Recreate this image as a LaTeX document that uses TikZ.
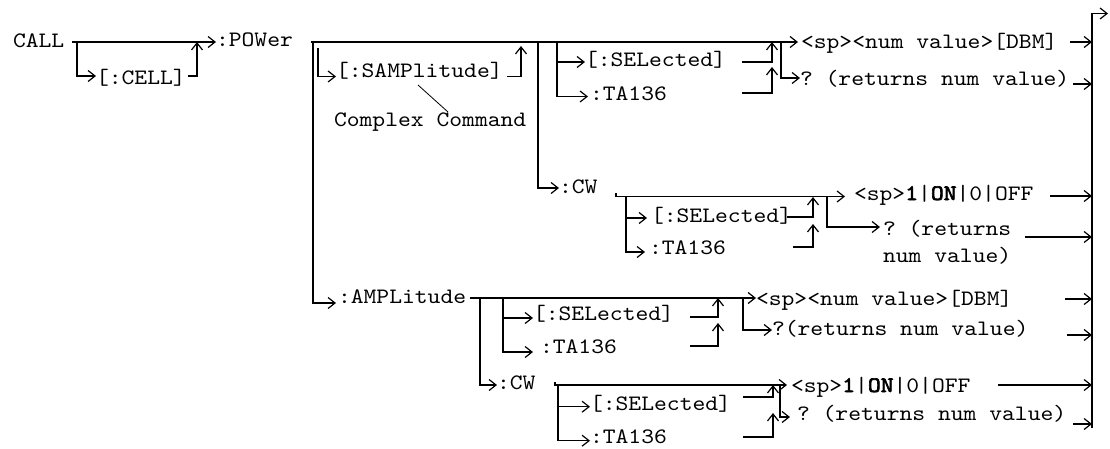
\documentclass[tikz,border=0pt]{standalone}
\usepackage{fontspec}
\setmonofont{lmmono10-regular.otf}[FakeStretch=1.11,
    BoldFont=lmmono10-regular.otf, BoldFeatures={FakeBold=3}]
\usetikzlibrary{arrows.meta}

\begin{document}
\begin{tikzpicture}[x=1pt, y=-1pt, line width=1.2pt,
    lbl/.style={font=\ttfamily\fontsize{22}{26}\selectfont, inner sep=0pt,
        outer sep=0pt, anchor=west, text depth=4pt, text height=#1},
    lbl/.default=13pt,
    arr/.style={-{Straight Barb[length=7pt,width=11pt]}}]
    \useasboundingbox (0,0) rectangle (1110,448);

    % keywords and parameters
    \node[lbl=14pt] (call) at (13,42) {CALL};
    \node[lbl=20pt] (cell) at (96,76) {[:CELL]};
    \node[lbl=12pt] (power) at (216,42) {:POWer};
    \node[lbl=5pt] (samp) at (336,76.5) {[:SAMPlitude]};
    \node[lbl, anchor=base west] (cplx) at (334,126) {Complex Command};
    \node[lbl=14pt] (cw1) at (559,188) {:CW};
    \node[lbl=12pt] (sel1) at (585,62) {[:SELected]};
    \node[lbl=11pt, outer xsep=2pt] (ta1) at (588,96.5) {:TA136};
    \node[lbl=16pt, outer xsep=3pt] (dbm1) at (798,42) {<sp><num value>[DBM]};
    \node[lbl=18pt] (q1) at (800,78) {? (returns num value)};
    \node[lbl=12pt, outer xsep=4pt] (sel2) at (647,218) {[:SELected]};
    \node[lbl=8pt, outer xsep=4pt] (ta2) at (645,252) {:TA136};
    \node[lbl=11pt, outer xsep=9pt] (on1) at (845,196.5) {<sp>\textbf{1}|\textbf{ON}|0|OFF};
    \node[lbl=20pt, outer xsep=3pt] (q2) at (880,227) {? (returns};
    \node[lbl, anchor=base west] (q2b) at (883,262) {num value)};
    \node[lbl=4pt, outer xsep=2pt] (amp) at (336,303) {:AMPLitude};
    \node[lbl=8pt] (sel3) at (533,318) {[:SELected]};
    \node[lbl=6pt, outer xsep=7pt] (ta3) at (533,352) {:TA136};
    \node[lbl=18pt] (dbm2) at (756,298) {<sp><num value>[DBM]};
    \node[lbl=14pt] (q3) at (772,330) {?(returns num value)};
    \node[lbl=12pt] (cw2) at (497,385) {:CW};
    \node[lbl=10.6pt] (sel4) at (590,406.7) {[:SELected]};
    \node[lbl=8.6pt] (ta4) at (590,440.7) {:TA136};
    \node[lbl=18pt, outer xsep=4pt] (on2) at (787,385) {<sp>\textbf{1}|\textbf{ON}|0|OFF};
    \node[lbl=10pt, outer xsep=7pt] (q4) at (790,417) {? (returns num value)};

    % junctions and free ends
    \coordinate (callR) at (72,42);
    \coordinate (cellJ) at (77,42);
    \coordinate (cellR) at (188,76);
    \coordinate (cellUp) at (197,42);
    \coordinate (powL) at (311,42);
    \coordinate (powJ) at (313,42);
    \coordinate (sampJ) at (318,48);
    \coordinate (sampR) at (507,76.5);
    \coordinate (sampUp) at (521,46);
    \coordinate (noteA) at (418,85);
    \coordinate (noteB) at (448,112);
    \coordinate (cwJ) at (538,42);
    \coordinate (selJ) at (557,42);
    \coordinate (sel1R) at (742,62);
    \coordinate (sel1Up) at (772,42);
    \coordinate (ta1R) at (742,93);
    \coordinate (ta1Up) at (772,67);
    \coordinate (qJ) at (781,42);
    \coordinate (dbm1R) at (1070,42);
    \coordinate (q1R) at (1073,84);
    \coordinate (barTop) at (1092,13.5);
    \coordinate (barBot) at (1092,428);
    \coordinate (exit) at (1108,13.5);
    \coordinate (cw1T) at (616,193);
    \coordinate (cw1J) at (626,196.5);
    \coordinate (sel2R) at (787,217);
    \coordinate (sel2Up) at (813,197);
    \coordinate (ta2R) at (793,247);
    \coordinate (ta2Up) at (813,224);
    \coordinate (on1J) at (827,196.5);
    \coordinate (on1R) at (1050,196);
    \coordinate (q2R) at (1025,237);
    \coordinate (ampR) at (470,298);
    \coordinate (ampJ) at (480,298);
    \coordinate (ampK) at (503,298);
    \coordinate (sel3R) at (690,317);
    \coordinate (sel3Up) at (718,298);
    \coordinate (ta3R) at (690,346);
    \coordinate (ta3Up) at (718,323);
    \coordinate (dbmJ) at (743,298);
    \coordinate (dbm2R) at (1065,299);
    \coordinate (q3R) at (1067,335);
    \coordinate (cw2T) at (555,382);
    \coordinate (cw2J) at (558,385);
    \coordinate (sel4R) at (743,397);
    \coordinate (sel4Up) at (773,385);
    \coordinate (ta4R) at (743,437);
    \coordinate (ta4Up) at (773,413);
    \coordinate (on2J) at (780,385);
    \coordinate (on2R) at (998,385);
    \coordinate (q4R) at (1073,424);

    % CALL
    \draw[arr] (callR) -- (power);
    \draw[arr] (cellJ) |- (cell);
    \draw[arr] (cellR) -| (cellUp);

    % :POWer
    \draw[arr] (powL) -- (dbm1);
    \draw[arr] (powJ) |- (amp);
    \draw[arr] (sampJ) |- (samp);
    \draw[arr] (sampR) -| (sampUp);
    \draw[line width=0.8pt] (noteA) -- (noteB);
    \draw[arr] (cwJ) |- (cw1);
    \draw[arr] (selJ) |- (sel1);
    \draw[arr] (selJ) |- (ta1);
    \draw[arr] (sel1R) -| (sel1Up);
    \draw[arr] (ta1R) -| (ta1Up);
    \draw[arr] (qJ) |- (q1);
    \draw[arr] (dbm1R) -- (dbm1R -| barTop);
    \draw[arr] (q1R) -- (q1R -| barTop);

    % :POWer:CW
    \draw[arr] (cw1T) |- (on1);
    \draw[arr] (cw1J) |- (sel2);
    \draw[arr] (cw1J) |- (ta2);
    \draw[arr] (sel2R) -| (sel2Up);
    \draw[arr] (ta2R) -| (ta2Up);
    \draw[arr] (on1J) |- (q2);
    \draw[arr] (on1R) -- (on1R -| barTop);
    \draw[arr] (q2R) -- (q2R -| barTop);

    % :AMPLitude
    \draw[arr] (ampR) -- (dbm2);
    \draw[arr] (ampJ) |- (cw2);
    \draw[arr] (ampK) |- (sel3);
    \draw[arr] (ampK) |- (ta3);
    \draw[arr] (sel3R) -| (sel3Up);
    \draw[arr] (ta3R) -| (ta3Up);
    \draw[arr] (dbmJ) |- (q3);
    \draw[arr] (dbm2R) -- (dbm2R -| barTop);
    \draw[arr] (q3R) -- (q3R -| barTop);

    % :AMPLitude:CW
    \draw[arr] (cw2T) |- (on2);
    \draw[arr] (cw2J) |- (sel4);
    \draw[arr] (cw2J) |- (ta4);
    \draw[arr] (sel4R) -| (sel4Up);
    \draw[arr] (ta4R) -| (ta4Up);
    \draw[arr] (on2J) |- (q4);
    \draw[arr] (on2R) -- (on2R -| barTop);
    \draw[arr] (q4R) -- (q4R -| barTop);

    % exit
    \draw[arr] (barBot) |- (exit);
\end{tikzpicture}
\end{document}
